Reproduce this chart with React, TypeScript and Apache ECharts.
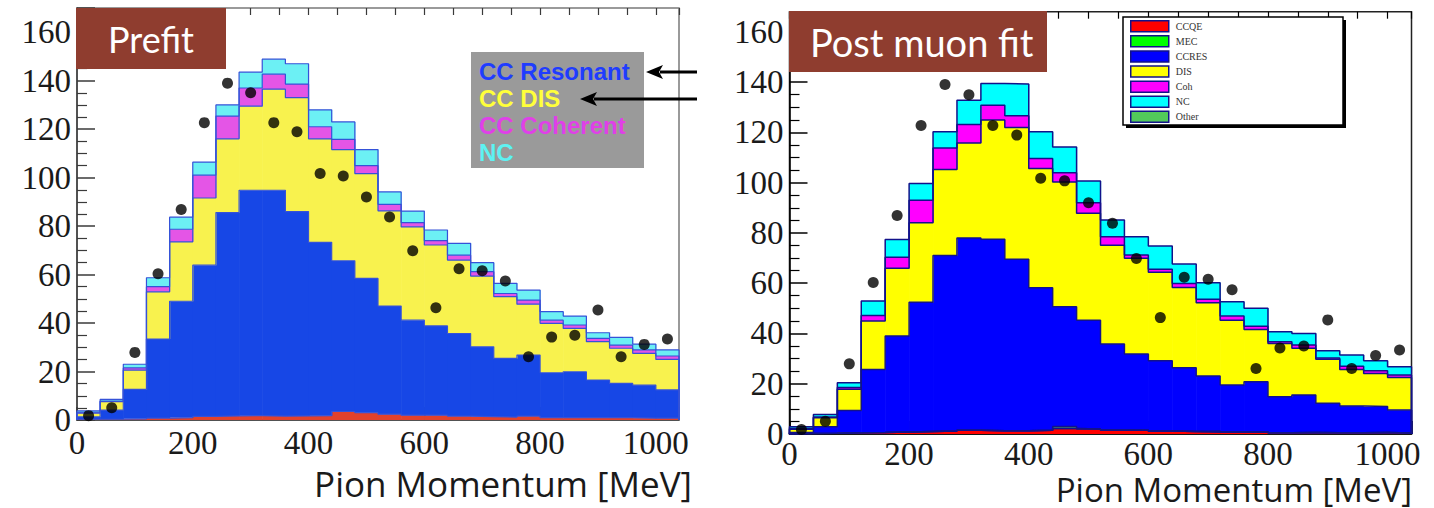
import React, { useEffect, useRef } from "react";
import * as echarts from "echarts";

// Pion momentum histograms: 26 bins of 40 MeV from 0 to 1040 MeV
const BIN_WIDTH = 40;
const X_MAX = 1040;

// Observed events per bin (shared by both panels)
const DATA_COUNTS = [1.8, 5.1, 27.9, 60.3, 86.9, 122.7, 139, 135, 122.7, 118.9, 101.7, 100.7, 92, 83.8, 69.8, 46.3, 62.4, 61.6, 57.4, 26.1, 34.2, 35, 45.4, 26.1, 31.2, 33.4];

// Prefit prediction, per interaction channel
const PRE_QE = [0.3, 0.3, 0.5, 0.8, 1.0, 1.5, 1.7, 1.8, 1.6, 1.7, 1.8, 3.5, 3.0, 2.4, 2.0, 2.0, 1.6, 1.4, 1.2, 1.6, 1.0, 1.0, 1.0, 1.0, 0.8, 0.8];
const PRE_RES = [1.0, 3.8, 12.1, 32.6, 48.0, 62.4, 83.9, 93.0, 93.2, 84.3, 71.5, 62.2, 55.4, 44.6, 39.2, 36.8, 34.1, 28.8, 24.2, 25.2, 18.5, 18.9, 15.5, 14.1, 13.6, 11.6];
const PRE_DIS = [1.5, 3.5, 8.0, 19.5, 24.5, 27.7, 30.4, 34.7, 41.7, 47.0, 42.7, 45.9, 43.3, 39.3, 38.5, 33.4, 30.3, 29.2, 25.5, 21.0, 20.4, 17.9, 15.8, 14.5, 13.1, 12.6];
const PRE_COH = [0.4, 0.2, 0.9, 2.1, 5.2, 9.4, 9.4, 7.5, 6.2, 5.6, 5.0, 4.2, 3.3, 2.7, 1.7, 1.8, 2.0, 1.8, 1.3, 1.7, 1.3, 1.4, 1.4, 1.3, 1.4, 1.4];
const PRE_NC = [0.6, 0.7, 1.5, 3.7, 5.0, 5.4, 4.6, 6.5, 6.2, 8.4, 7.0, 7.2, 6.6, 5.1, 4.8, 4.4, 4.9, 3.7, 4.2, 4.1, 3.5, 3.7, 2.3, 3.2, 2.4, 2.5];

// Prediction after the muon fit
const POST_CCQE = [0.2, 0.3, 0.5, 0.6, 0.8, 1.0, 1.2, 1.5, 1.3, 1.3, 1.5, 2.2, 2.0, 1.6, 1.5, 1.2, 1.0, 0.8, 0.8, 0.9, 0.5, 0.6, 0.5, 0.5, 0.6, 0.4];
const POST_MEC = [0, 0, 0, 0, 0, 0, 0, 0, 0, 0, 0, 0, 0, 0, 0, 0, 0, 0, 0, 0, 0, 0, 0, 0, 0, 0];
const POST_OTHER = [0, 0, 0, 0, 0, 0, 0, 0, 0, 0, 0, 0.8, 0, 0, 0, 0, 0, 0.4, 0, 0, 0, 0, 0, 0, 0, 0];
const POST_CCRES = [0.4, 2.6, 8.8, 25.1, 38.2, 51.4, 69.8, 76.5, 76.2, 68.2, 56.7, 47.6, 43.3, 34.2, 30.3, 27.9, 25.4, 21.9, 18.7, 19.9, 14.3, 14.9, 11.7, 10.6, 10.3, 9.1];
const POST_DIS = [1.3, 3.6, 8.5, 19.3, 26.9, 31.6, 34.2, 37.8, 47.4, 52.4, 47.4, 49.7, 42.5, 39.3, 38.1, 35.2, 31.9, 29.1, 25.8, 20.8, 21.2, 18.6, 17.5, 14.6, 13.2, 13.0];
const POST_COH = [0.3, 0.3, 0.7, 2.1, 4.4, 9.0, 8.6, 7.3, 5.9, 4.7, 4.0, 3.6, 4.2, 3.4, 1.3, 1.2, 1.6, 1.4, 1.6, 1.3, 0.7, 1.3, 0.5, 1.3, 1.1, 1.0];
const POST_NC = [0.7, 1.0, 1.9, 5.8, 7.1, 6.7, 6.4, 9.7, 8.6, 12.6, 10.6, 10.3, 8.6, 6.6, 7.3, 9.3, 7.7, 6.6, 5.7, 7.1, 4.0, 4.6, 2.9, 4.4, 3.9, 3.3];

const X_TICKS = [0, 200, 400, 600, 800, 1000];
const Y_TICKS = [0, 20, 40, 60, 80, 100, 120, 140, 160];

const LEGEND_NAMES = ["CCQE", "MEC", "CCRES", "DIS", "Coh", "NC", "Other"];
const PREFIT_LEGEND = ["CC Resonant", "CC DIS", "CC Coherent", "NC"];

type Component = { name: string; values: number[]; color: string };

const SERIF = "Liberation Serif";
const SANS = "Open Sans";

// Filled bins plus a step outline for every cumulative histogram of the stack
function stackSeries(comps: Component[], axisIndex: number, stroke: string, lineWidth: number) {
  const base = new Array(DATA_COUNTS.length).fill(0);
  const out: any[] = [];
  comps.forEach((c) => {
    const data: number[][] = [];
    c.values.forEach((v, i) => {
      const lo = base[i];
      base[i] = lo + v;
      if (v > 0) data.push([i * BIN_WIDTH, (i + 1) * BIN_WIDTH, lo, base[i]]);
    });
    out.push({
      type: "custom",
      name: c.name,
      xAxisIndex: axisIndex * 2,
      yAxisIndex: axisIndex,
      encode: { x: [0, 1], y: [2, 3] },
      clip: true,
      z: 2,
      itemStyle: { color: c.color },
      renderItem: (_params: any, api: any) => {
        const p0 = api.coord([api.value(0), api.value(3)]);
        const p1 = api.coord([api.value(1), api.value(2)]);
        return {
          type: "rect",
          shape: { x: p0[0], y: p0[1], width: p1[0] - p0[0] + 0.6, height: p1[1] - p0[1] },
          style: { fill: c.color },
        };
      },
      data,
    });
    const tops = base.slice();
    const steps: number[][] = [[0, 0]];
    tops.forEach((t, i) => steps.push([i * BIN_WIDTH, t]));
    steps.push([X_MAX, tops[tops.length - 1]]);
    steps.push([X_MAX, 0]);
    out.push({
      type: "line",
      name: `${c.name} outline`,
      xAxisIndex: axisIndex * 2,
      yAxisIndex: axisIndex,
      step: "end",
      symbol: "none",
      silent: true,
      z: 3,
      lineStyle: { color: stroke, width: lineWidth },
      data: steps,
    });
  });
  return out;
}

function axesFor(gridIndex: number, yMax: number, lineColor: string, xLabelMargin: number) {
  const label = { fontFamily: SERIF, fontSize: 33, color: "#1a1a1a" };
  const xMain = {
    type: "value",
    gridIndex,
    min: 0,
    max: X_MAX,
    interval: 200,
    axisLine: { show: true, lineStyle: { color: lineColor, width: 1.5 } },
    axisTick: { show: true, inside: true, length: 13, lineStyle: { color: lineColor, width: 1.5 } },
    axisLabel: { ...label, margin: xLabelMargin, formatter: (v: number) => (X_TICKS.includes(v) ? String(v) : "") },
    splitLine: { show: false },
  };
  const xMinor = {
    type: "value",
    gridIndex,
    min: 0,
    max: X_MAX,
    interval: 50,
    axisLine: { show: false },
    axisTick: { show: true, inside: true, length: 7, lineStyle: { color: lineColor, width: 1.2 } },
    axisLabel: { show: false },
    splitLine: { show: false },
  };
  const y = {
    type: "value",
    gridIndex,
    min: 0,
    max: yMax,
    interval: 20,
    axisLine: { show: true, lineStyle: { color: lineColor, width: 1.5 } },
    axisTick: { show: true, inside: true, length: 18, lineStyle: { color: lineColor, width: 1.5 } },
    minorTick: { show: true, splitNumber: 4, length: 10, lineStyle: { color: lineColor, width: 1.2 } },
    axisLabel: { ...label, margin: 6, formatter: (v: number) => (Y_TICKS.includes(v) ? String(v) : "") },
    splitLine: { show: false },
    minorSplitLine: { show: false },
  };
  return { x: [xMain, xMinor], y };
}

function labelBox(x: number, y: number, w: number, h: number, text: string, inset: number, size: number) {
  return {
    type: "group",
    z: 20,
    children: [
      { type: "rect", z: 20, shape: { x, y, width: w, height: h }, style: { fill: "#8f3d2f" } },
      {
        type: "text",
        z: 21,
        x: x + inset,
        y: y + h / 2,
        style: {
          text,
          fill: "#ffffff",
          font: `${size}px "Lato", "Open Sans", sans-serif`,
          verticalAlign: "middle",
        },
      },
    ],
  };
}

function arrow(xFrom: number, xTip: number, y: number) {
  return {
    type: "group",
    z: 20,
    children: [
      { type: "line", z: 20, shape: { x1: xFrom, y1: y, x2: xTip + 14, y2: y }, style: { stroke: "#000", lineWidth: 3 } },
      {
        type: "polygon",
        z: 20,
        shape: { points: [[xTip, y], [xTip + 17, y - 7], [xTip + 13, y], [xTip + 17, y + 7]] },
        style: { fill: "#000" },
      },
    ],
  };
}

export default function App() {
  const ref = useRef<HTMLDivElement>(null);

  useEffect(() => {
    if (!ref.current) return;
    const chart = echarts.init(ref.current, undefined, { renderer: "svg" });

    const leftAxes = axesFor(0, 170, "#3a3a3a", 6);
    const rightAxes = axesFor(1, 168, "#000000", 3);

    const prefit = stackSeries(
      [
        { name: "Prefit CC QE", values: PRE_QE, color: "#e2412c" },
        { name: "CC Resonant", values: PRE_RES, color: "#1747e6" },
        { name: "CC DIS", values: PRE_DIS, color: "#f8f24e" },
        { name: "CC Coherent", values: PRE_COH, color: "#e455e6" },
        { name: "Prefit NC", values: PRE_NC, color: "#6cf0f4" },
      ],
      0,
      "#3552d8",
      1.2
    );
    const postfit = stackSeries(
      [
        { name: "CCQE", values: POST_CCQE, color: "#ff0000" },
        { name: "MEC", values: POST_MEC, color: "#00ff00" },
        { name: "Other", values: POST_OTHER, color: "#52c95a" },
        { name: "CCRES", values: POST_CCRES, color: "#0000ff" },
        { name: "DIS", values: POST_DIS, color: "#ffff00" },
        { name: "Coh", values: POST_COH, color: "#ff00ff" },
        { name: "NC", values: POST_NC, color: "#00ffff" },
      ],
      1,
      "#12128a",
      1.5
    );

    const points = DATA_COUNTS.map((v, i) => [i * BIN_WIDTH + BIN_WIDTH / 2, v]);
    const dataSeries = [0, 1].map((k) => ({
      type: "scatter",
      name: k === 0 ? "Data (prefit panel)" : "Data (post-fit panel)",
      xAxisIndex: k * 2,
      yAxisIndex: k,
      symbol: "circle",
      symbolSize: 11,
      itemStyle: { color: "#000000" },
      z: 5,
      data: points,
    }));

    const prefitLegendColors = ["#1f3cff", "#ffff3a", "#e040e8", "#5ef2f2"];

    chart.setOption({
      animation: false,
      backgroundColor: "#ffffff",
      grid: [
        { left: 77, top: 8, width: 602, height: 412, show: true, borderColor: "#7a7a7a", borderWidth: 1.5, backgroundColor: "transparent" },
        { left: 789.5, top: 11.7, width: 622, height: 422.3, show: true, borderColor: "#222222", borderWidth: 1.5, backgroundColor: "transparent" },
      ],
      xAxis: [...leftAxes.x, ...rightAxes.x],
      yAxis: [leftAxes.y, rightAxes.y],
      legend: {
        data: LEGEND_NAMES,
        orient: "vertical",
        left: 1130,
        top: 20,
        itemWidth: 38,
        itemHeight: 11,
        itemGap: 2.6,
        icon: "rect",
        padding: 0,
        z: 8,
        selectedMode: false,
        itemStyle: { borderColor: "#12128a", borderWidth: 1.5 },
        textStyle: { fontFamily: SERIF, fontSize: 10, lineHeight: 11, color: "#333333", padding: [0, 0, 0, 2] },
      },
      series: [...prefit, ...postfit, ...dataSeries],
      graphic: [
        // prefit legend
        {
          type: "group",
          z: 6,
          children: [
            { type: "rect", z: 6, shape: { x: 471, y: 52, width: 173, height: 116 }, style: { fill: "#9a9a9a" } },
            ...PREFIT_LEGEND.map((t, i) => ({
              type: "text",
              z: 7,
              x: 479,
              y: 71 + i * 27.3,
              style: {
                text: t,
                fill: prefitLegendColors[i],
                font: `bold 24px "Liberation Sans", Arial, sans-serif`,
                verticalAlign: "middle",
                shadowColor: "rgba(20,20,20,0.75)",
                shadowBlur: 2,
                shadowOffsetX: 1.5,
                shadowOffsetY: 1.5,
              },
            })),
          ],
        },
        arrow(697, 646, 72),
        arrow(697, 580, 99),
        // post-fit legend frame with drop shadow
        {
          type: "group",
          z: 6,
          children: [
            { type: "rect", z: 6, shape: { x: 1126, y: 20, width: 220, height: 108 }, style: { fill: "#000000" } },
            { type: "rect", z: 6, shape: { x: 1123, y: 17, width: 220, height: 108 }, style: { fill: "#ffffff", stroke: "#000000", lineWidth: 1.5 } },
          ],
        },
        labelBox(76, 8, 150, 61, "Prefit", 32, 36),
        labelBox(789, 11, 258, 61, "Post muon fit", 21, 38),
        // x-axis titles
        {
          type: "text",
          z: 20,
          x: 692,
          y: 483,
          style: {
            text: "Pion Momentum [MeV]",
            fill: "#1a1a1a",
            font: `35px "${SANS}", sans-serif`,
            align: "right",
            verticalAlign: "middle",
          },
        },
        {
          type: "text",
          z: 20,
          x: 1412,
          y: 489,
          style: {
            text: "Pion Momentum [MeV]",
            fill: "#1a1a1a",
            font: `33px "${SANS}", sans-serif`,
            align: "right",
            verticalAlign: "middle",
          },
        },
      ],
    });

    return () => chart.dispose();
  }, []);

  return (
    <div
      ref={ref}
      style={{ position: "fixed", left: 0, top: 0, width: 1434, height: 508, background: "#fff" }}
    />
  );
}
